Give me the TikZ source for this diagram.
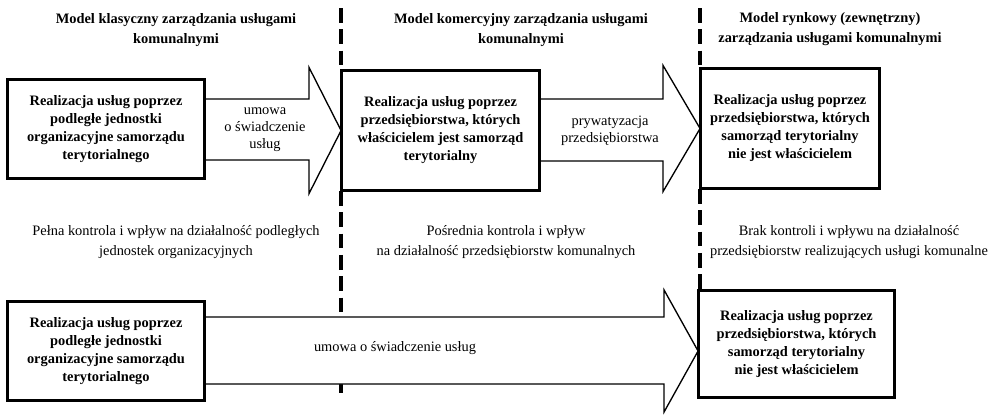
\documentclass[tikz,border=0pt]{standalone}
\usepackage{fontspec}
\setmainfont{Liberation Serif}
\usetikzlibrary{calc}
\tikzset{
  model/.style={draw, line width=1.4pt, fill=white, align=center, inner sep=0pt,
    font=\fontsize{10.8}{13.5}\selectfont\bfseries},
  fatarrow/.style={draw, line width=1pt, fill=white, line join=miter},
  divider/.style={line width=3pt, dash pattern=on 11pt off 5pt},
  header/.style={align=center, font=\fontsize{10.8}{15}\selectfont\bfseries},
  remark/.style={align=center, font=\fontsize{10.8}{15}\selectfont},
  label/.style={align=center, font=\fontsize{10.8}{12.75}\selectfont},
}
\begin{document}
\begin{tikzpicture}[x=0.75pt, y=-0.75pt]
\useasboundingbox (0,0) rectangle (999,414);

% boxes
\node[model, minimum width=147pt, minimum height=73.5pt] (klas) at (106,129)
  {Realizacja usług poprzez\\podległe jednostki\\organizacyjne samorządu\\terytorialnego};
\node[model, minimum width=147.75pt, minimum height=89.25pt] (kom) at (440.5,130.5)
  {Realizacja usług poprzez\\przedsiębiorstwa, których\\właścicielem jest samorząd\\terytorialny};
\node[model, minimum width=133.5pt, minimum height=89.25pt] (ryn) at (790,128.5)
  {Realizacja usług poprzez\\przedsiębiorstwa, których\\samorząd terytorialny\\nie jest właścicielem};
\node[model, minimum width=147pt, minimum height=73.5pt] (klasB) at (106,351)
  {Realizacja usług poprzez\\podległe jednostki\\organizacyjne samorządu\\terytorialnego};
\node[model, minimum width=146.25pt, minimum height=79.5pt] (rynB) at (796.5,344)
  {Realizacja usług poprzez\\przedsiębiorstwa, których\\samorząd terytorialny\\nie jest właścicielem};

% dividers
\draw[divider] ($(kom.north west)+(0,-62)$) -- (kom.north west);
\draw[divider] (kom.south west) -- ($(kom.south west |- klasB.east)+(0,-34)$);
\draw[divider] ($(kom.south west |- klasB.east)+(0,33)$) -- ++(0,9);
\draw[divider] ($(ryn.north west)+(0,-60)$) -- (ryn.north west);
\draw[divider] (ryn.south west) -- (ryn.south west |- rynB.north);

% arrows
\coordinate (a1h) at ($(kom.west)+(-32,0)$);
\draw[fatarrow] ($(klas.east)+(0,-30)$) -- ($(a1h |- klas.east)+(0,-30)$)
  -- ($(a1h)+(0,-63)$) -- (kom.west) -- ($(a1h)+(0,63)$)
  -- ($(a1h |- klas.east)+(0,31)$) -- ($(klas.east)+(0,31)$);
\coordinate (a2h) at ($(ryn.west)+(-37,0)$);
\draw[fatarrow] ($(kom.east)+(0,-31.5)$) -- ($(a2h |- kom.east)+(0,-31.5)$)
  -- ($(a2h)+(0,-63)$) -- (ryn.west) -- ($(a2h)+(0,63)$)
  -- ($(a2h |- kom.east)+(0,30.5)$) -- ($(kom.east)+(0,30.5)$);
\coordinate (a3t) at (rynB.west |- klasB.east);
\coordinate (a3h) at ($(a3t)+(-34,0)$);
\draw[fatarrow] ($(klasB.east)+(0,-34)$) -- ($(a3h)+(0,-34)$)
  -- ($(a3h)+(0,-61)$) -- (a3t) -- ($(a3h)+(0,61)$)
  -- ($(a3h)+(0,33)$) -- ($(klasB.east)+(0,33)$);

% redraw box borders over the arrow ends
\foreach \b in {klas,kom,ryn,klasB,rynB}
  \draw[line width=1.4pt] (\b.north west) rectangle (\b.south east);

% texts
\node[header] (hklas) at (176,30) {Model klasyczny zarządzania usługami\\komunalnymi};
\node[header] (hkom) at (521,30) {Model komercyjny zarządzania usługami\\komunalnymi};
\node[header] (hryn) at (830,29) {Model rynkowy (zewnętrzny)\\zarządzania usługami komunalnymi};

\node[label] (umowa) at (265,130) {umowa\\o świadczenie\\usług};
\node[label] (pryw) at (610,131) {prywatyzacja\\przedsiębiorstwa};
\node[label] (umowaB) at (395,348) {umowa o świadczenie usług};

\node[remark] (rklas) at (176,242) {Pełna kontrola i wpływ na działalność podległych\\jednostek organizacyjnych};
\node[remark] (rkom) at (506,242) {Pośrednia kontrola i wpływ\\na działalność przedsiębiorstw komunalnych};
\node[remark] (rryn) at (849,242) {Brak kontroli i wpływu na działalność\\przedsiębiorstw realizujących usługi komunalne};
\end{tikzpicture}
\end{document}
